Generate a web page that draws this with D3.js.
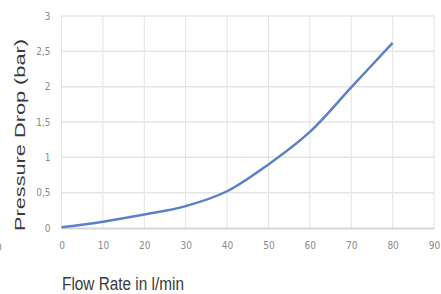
<!DOCTYPE html>
<html>
<head>
<meta charset="utf-8">
<script src="https://cdn.jsdelivr.net/npm/d3@7"></script>
<style>
  body { margin: 0; background: #fff; }
  .tick text { font-family: "DejaVu Sans Condensed", "Liberation Sans", sans-serif; }
</style>
</head>
<body>
<div id="chart"></div>
<script>
// data
var flowRate = [0, 10, 20, 30, 40, 50, 60, 70, 80];
var pressureDrop = [0.01, 0.09, 0.19, 0.31, 0.52, 0.9, 1.36, 1.99, 2.62];
var xTicks = [0, 10, 20, 30, 40, 50, 60, 70, 80, 90];
var yTicks = [0, 0.5, 1, 1.5, 2, 2.5, 3];
var yTickLabels = ["0", "0,5", "1", "1,5", "2", "2,5", "3"];

var svgWidth = 441;
var svgHeight = 294;

var margin = { top: 16, right: 7, bottom: 66, left: 61.5 };
var width = svgWidth - margin.left - margin.right;
var height = svgHeight - margin.top - margin.bottom;

var svg = d3.select("#chart")
    .append("svg")
    .attr("width", svgWidth)
    .attr("height", svgHeight);

var chartGroup = svg.append("g")
    .attr("transform", `translate(${margin.left}, ${margin.top})`);

var xScale = d3.scaleLinear().domain([0, 90]).range([0, width]);
var yScale = d3.scaleLinear().domain([0, 3]).range([height, 0]);

// gridlines
chartGroup.append("g")
    .selectAll("line.v")
    .data(xTicks)
    .enter()
    .append("line")
    .attr("x1", d => xScale(d))
    .attr("x2", d => xScale(d))
    .attr("y1", 0)
    .attr("y2", height)
    .attr("stroke", "#e3e3e3")
    .attr("stroke-width", 1);

chartGroup.append("g")
    .selectAll("line.h")
    .data(yTicks.slice(1))
    .enter()
    .append("line")
    .attr("x1", 0)
    .attr("x2", width)
    .attr("y1", d => yScale(d))
    .attr("y2", d => yScale(d))
    .attr("stroke", "#e6e6e6")
    .attr("stroke-width", 1.5);

// axes
var bottomAxis = d3.axisBottom(xScale).tickValues(xTicks).tickSize(0).tickPadding(14);
var leftAxis = d3.axisLeft(yScale).tickValues(yTicks).tickSize(0).tickPadding(11)
    .tickFormat((d, i) => yTickLabels[i]);

var xAxisG = chartGroup.append("g")
    .attr("transform", `translate(0, ${height})`)
    .call(bottomAxis);
xAxisG.select(".domain").attr("stroke", "#d6d6d6").attr("stroke-width", 2);

var yAxisG = chartGroup.append("g").call(leftAxis);
yAxisG.select(".domain").remove();

chartGroup.selectAll(".tick text")
    .attr("fill", "#8a8a8a")
    .attr("font-size", 10);

// curve
var line = d3.line()
    .x((d, i) => xScale(flowRate[i]))
    .y(d => yScale(d))
    .curve(d3.curveCatmullRom.alpha(0.5));

chartGroup.append("path")
    .datum(pressureDrop)
    .attr("d", line)
    .attr("fill", "none")
    .attr("stroke", "#5a80c8")
    .attr("stroke-width", 2.5);

// cut-off label at the left edge, as in the source picture
svg.append("text")
    .attr("x", -4)
    .attr("y", 251)
    .attr("font-family", "DejaVu Sans Condensed, sans-serif")
    .attr("font-size", 10)
    .attr("fill", "#8a8a8a")
    .text("0");

// axis titles
svg.append("text")
    .attr("transform", "translate(25, 135) rotate(-90)")
    .attr("text-anchor", "middle")
    .attr("font-family", "Liberation Sans, Arial, sans-serif")
    .attr("font-size", 15)
    .attr("fill", "#3a3a3a")
    .attr("textLength", 192)
    .attr("lengthAdjust", "spacingAndGlyphs")
    .text("Pressure Drop (bar)");

svg.append("text")
    .attr("x", 62)
    .attr("y", 290)
    .attr("font-family", "Liberation Sans, Arial, sans-serif")
    .attr("font-size", 18)
    .attr("fill", "#3a3a3a")
    .attr("textLength", 122)
    .attr("lengthAdjust", "spacingAndGlyphs")
    .text("Flow Rate in l/min");
</script>
</body>
</html>
